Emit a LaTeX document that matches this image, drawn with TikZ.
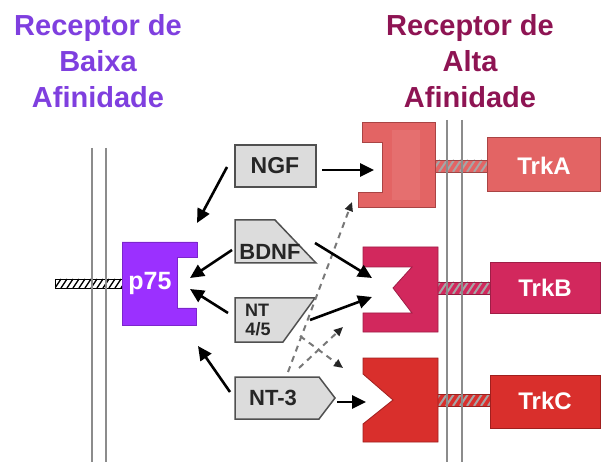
\documentclass[tikz,border=0pt]{standalone}
\usepackage{fontspec}
\setmainfont{Liberation Sans}
\usetikzlibrary{arrows.meta}
\definecolor{titleL}{RGB}{127,63,223}
\definecolor{titleR}{RGB}{142,20,83}
\definecolor{pviolet}{RGB}{155,48,255}
\definecolor{trkAc}{RGB}{227,100,100}
\definecolor{trkAe}{RGB}{169,68,68}
\definecolor{trkBc}{RGB}{210,40,93}
\definecolor{trkBe}{RGB}{158,30,70}
\definecolor{trkCc}{RGB}{217,47,44}
\definecolor{trkCe}{RGB}{160,31,30}
\definecolor{boxgray}{RGB}{220,220,220}
\definecolor{boxedge}{RGB}{80,80,80}
\definecolor{membr}{RGB}{140,140,140}
\definecolor{dashgray}{RGB}{120,120,120}
\begin{document}
\begin{tikzpicture}[x=1pt,y=-1pt,
  ttl/.style={font=\bfseries\fontsize{29}{29}\selectfont, inner sep=0pt, anchor=base},
  lbl/.style={font=\bfseries\fontsize{23}{23}\selectfont, inner sep=0pt, text=black!85},
  trklbl/.style={font=\bfseries\fontsize{24}{24}\selectfont, inner sep=0pt, text=white},
  lgbox/.style={fill=boxgray, draw=boxedge, line width=1.5pt},
  memline/.style={draw=membr, line width=1.6pt},
  sarrow/.style={line width=2.6pt, -{Triangle[length=14pt,width=13pt]}},
  darrow/.style={draw=dashgray, line width=2pt, dash pattern=on 6pt off 5pt, -{Triangle[length=9pt,width=8pt,color=black!85]}}
]
\useasboundingbox (0,0) rectangle (605,462);

% titles
\node[ttl, text=titleL] (tl1) at (98,36) {Receptor de};
\node[ttl, text=titleL] (tl2) at (98,72) {Baixa};
\node[ttl, text=titleL] (tl3) at (98,108) {Afinidade};
\node[ttl, text=titleR] (tr1) at (470,36) {Receptor de};
\node[ttl, text=titleR] (tr2) at (470,72) {Alta};
\node[ttl, text=titleR] (tr3) at (470,108) {Afinidade};

% left stalk (hatched)
\begin{scope}
  \clip (55,279) rectangle (122,288);
  \fill[white] (55,279) rectangle (122,288);
  \foreach \x in {49,55,...,127} \draw[black, line width=1.3pt] (\x,288) -- (\x+6,279);
\end{scope}
\draw[black, line width=0.6pt] (55,279) rectangle (122,288);

% right stalks
\foreach \c/\col in {166/trkAc,288/trkBc,400/trkCc}{
  \begin{scope}
    \clip (435,\c-6) rectangle (490,\c+6);
    \fill[\col] (435,\c-6) rectangle (490,\c+6);
    \foreach \x in {425,432,...,495} \draw[gray!70!white, line width=2pt] (\x,\c+6) -- (\x+8,\c-6);
  \end{scope}
  \draw[\col!70!black, line width=0.6pt] (435,\c-6) rectangle (490,\c+6);
}

% membranes
\draw[memline] (92,148) -- (92,462);
\draw[memline] (106,148) -- (106,462);
\draw[memline] (447,120) -- (447,462);
\draw[memline] (462,120) -- (462,462);

% p75 receptor
\draw[fill=pviolet, draw=pviolet!80!black, line width=0.8pt]
  (122,242) -- (197,242) -- (197,257) -- (177,257) -- (177,308) -- (196,308) -- (196,325) -- (122,325) -- cycle;
\node[trklbl, font=\bfseries\fontsize{25}{25}\selectfont] (p75) at (150,283) {p75};

% Trk receptors
\draw[fill=trkAc, draw=trkAe, line width=1pt]
  (362,123) -- (435,123) -- (435,208) -- (358,208) -- (358,193) -- (382,193) -- (382,143) -- (362,143) -- cycle;
\fill[trkAc!93!white] (392,130) rectangle (420,200);
\draw[fill=trkBc, draw=trkBe, line width=0.8pt]
  (363,247) -- (438,247) -- (438,332) -- (363,332) -- (363,313) -- (412,313) -- (393,288) -- (412,267) -- (363,267) -- cycle;
\draw[fill=trkCc, draw=trkCe, line width=0.8pt]
  (363,358) -- (438,358) -- (438,442) -- (363,442) -- (363,424) -- (393,400) -- (363,374) -- cycle;

% Trk boxes
\draw[fill=trkAc, draw=trkAe, line width=1pt] (487,138) rectangle (600,192);
\node[trklbl] (trkA) at (544,166) {TrkA};
\draw[fill=trkBc, draw=trkBe, line width=0.8pt] (490,262) rectangle (600,313);
\node[trklbl] (trkB) at (545,288) {TrkB};
\draw[fill=trkCc, draw=trkCe, line width=0.8pt] (490,375) rectangle (600,428);
\node[trklbl] (trkC) at (545,401) {TrkC};

% ligand boxes
\draw[lgbox] (235,145) rectangle (316,187);
\node[lbl] (ngf) at (275,166) {NGF};
\draw[lgbox] (235,220) -- (275,220) -- (316,263) -- (235,263) -- cycle;
\node[lbl, font=\bfseries\fontsize{22}{22}\selectfont] (bdnf) at (270,252) {BDNF};
\draw[lgbox] (235,298) -- (315,298) -- (283,342) -- (235,342) -- cycle;
\node[lbl, font=\bfseries\fontsize{18}{18}\selectfont] (nt45a) at (257,310) {NT};
\node[lbl, font=\bfseries\fontsize{18}{18}\selectfont] (nt45b) at (258,329) {4/5};
\draw[lgbox] (235,377) -- (319,377) -- (335,398) -- (319,419) -- (235,419) -- cycle;
\node[lbl, font=\bfseries\fontsize{22}{22}\selectfont] (nt3) at (273,398) {NT-3};

% arrow end coordinates
\coordinate (ngfL) at (227,167);   \coordinate (p75a) at (197,223);
\coordinate (bdnfL) at (232,250);  \coordinate (p75b) at (190,278);
\coordinate (nt45L) at (228,313);  \coordinate (p75c) at (190,289);
\coordinate (nt3L) at (230,392);   \coordinate (p75d) at (198,346);
\coordinate (ngfR) at (322,170);   \coordinate (trkAin) at (374,170);
\coordinate (bdnfR) at (315,243);  \coordinate (trkBin1) at (372,278);
\coordinate (nt45R) at (310,320);  \coordinate (trkBin2) at (372,297);
\coordinate (nt3R) at (337,402);   \coordinate (trkCin) at (366,402);
\coordinate (nt3T1) at (288,372);  \coordinate (trkAlow) at (352,202);
\coordinate (nt3T2) at (299,368);  \coordinate (trkBlow) at (343,327);
\coordinate (nt45B) at (300,336);  \coordinate (trkCtop) at (343,368);

% dashed arrows
\draw[darrow] (nt3T1) -- (trkAlow);
\draw[darrow] (nt3T2) -- (trkBlow);
\draw[darrow] (nt45B) -- (trkCtop);

% solid arrows
\draw[sarrow] (ngfL) -- (p75a);
\draw[sarrow] (bdnfL) -- (p75b);
\draw[sarrow] (nt45L) -- (p75c);
\draw[sarrow] (nt3L) -- (p75d);
\draw[sarrow] (ngfR) -- (trkAin);
\draw[sarrow] (bdnfR) -- (trkBin1);
\draw[sarrow] (nt45R) -- (trkBin2);
\draw[sarrow] (nt3R) -- (trkCin);
\end{tikzpicture}
\end{document}
